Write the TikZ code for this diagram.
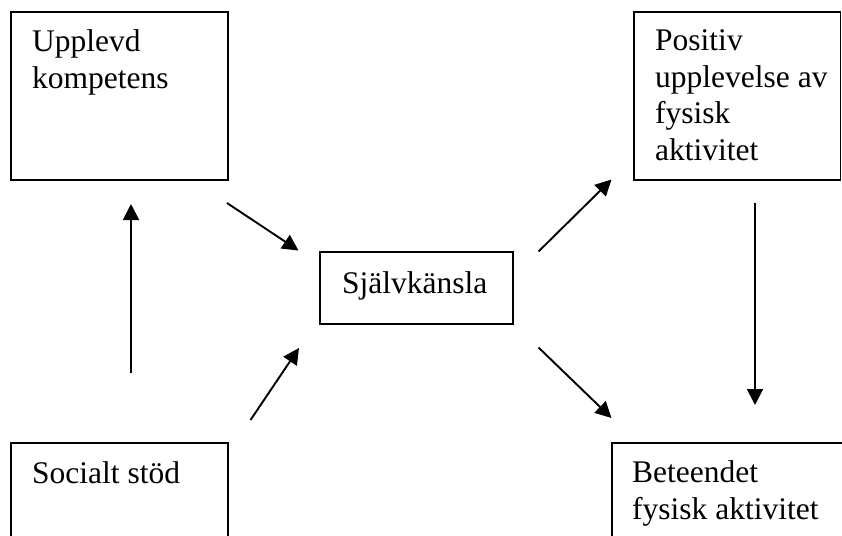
\documentclass[tikz,border=0pt]{standalone}
\usepackage{fontspec}
\setmainfont{Liberation Serif}
\usetikzlibrary{arrows.meta}
\begin{document}
\begin{tikzpicture}[x=1pt,y=-1pt,
  boxline/.style={draw=black,line width=1.9pt},
  lbl/.style={inner sep=0pt,anchor=base west,align=left,font=\fontsize{31.5}{36.7}\selectfont},
  arr/.style={line width=1.9pt,-{Triangle[length=16pt,width=16pt]}}]
\useasboundingbox (0,0) rectangle (842,535);
\clip (0,0) rectangle (842,535);
\fill[white] (0,0) rectangle (842,535);
% boxes
\draw[boxline] (11,12) rectangle (228,180);
\draw[boxline] (634,12) rectangle (840.5,180);
\draw[boxline] (320,252) rectangle (513,324);
\draw[boxline] (11,443) rectangle (228,560);
\draw[boxline] (612,443) rectangle (860,560);
% texts (anchored at the baseline of their last line)
\node[lbl] (komp) at (32,88.3) {Upplevd\\kompetens};
\node[lbl] (pos) at (655,160.5) {Positiv\\upplevelse av\\fysisk\\aktivitet};
\node[lbl] (sjalv) at (342,293.5) {Självkänsla};
\node[lbl] (soc) at (32,483.5) {Socialt stöd};
\node[lbl] (bet) at (632,519) {Beteendet\\fysisk aktivitet};
% arrow ends
\coordinate (u1) at (131,372.5);
\coordinate (u2) at (131,204);
\coordinate (d1) at (755,203);
\coordinate (d2) at (755,405);
\coordinate (a1) at (227,203);
\coordinate (a2) at (298.5,250.5);
\coordinate (b1) at (250.5,420);
\coordinate (b2) at (299,348);
\coordinate (c1) at (538.5,251.5);
\coordinate (c2) at (611.5,179.5);
\coordinate (e1) at (538.5,347.5);
\coordinate (e2) at (611.5,418);
\draw[arr] (u1) -- (u2);
\draw[arr] (d1) -- (d2);
\draw[arr] (a1) -- (a2);
\draw[arr] (b1) -- (b2);
\draw[arr] (c1) -- (c2);
\draw[arr] (e1) -- (e2);
\end{tikzpicture}
\end{document}
